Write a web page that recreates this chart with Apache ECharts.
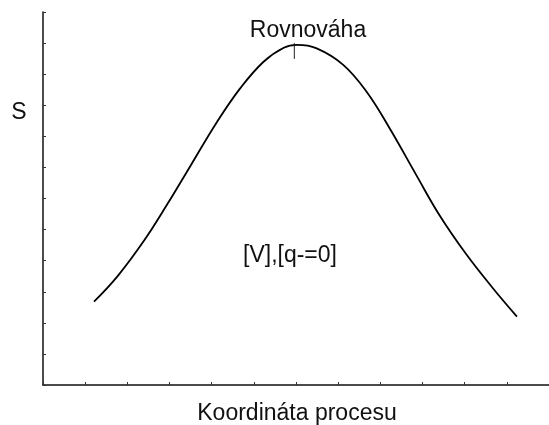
<!DOCTYPE html>
<html>
<head>
<meta charset="utf-8">
<script src="https://cdn.jsdelivr.net/npm/echarts@6/dist/echarts.min.js"></script>
<style>
  html, body { margin: 0; padding: 0; background: #fff; }
  #chart { width: 549px; height: 425px; }
</style>
</head>
<body>
<div id="chart"></div>
<script>
// Reaction-coordinate profile: S along the process coordinate (arbitrary units 0–12)
const coordX = [1.21, 1.78, 2.41, 2.95, 3.51, 4.13, 4.68, 5.23, 5.71, 6.02, 6.49, 7.12, 7.67, 8.22, 8.85, 9.40, 10.03, 10.66, 11.24];
const valueS = [2.68, 3.52, 4.67, 5.82, 7.08, 8.47, 9.55, 10.40, 10.85, 10.94, 10.83, 10.30, 9.44, 8.26, 6.76, 5.47, 4.22, 3.13, 2.20];

// Equilibrium marker at the maximum
const peakX = 5.96;
const peakMarkY = [11.0, 10.49];

const xAxisTitle = 'Koordináta procesu';
const yAxisTitle = 'S';
const peakLabel = 'Rovnováha';
const areaLabel = '[V],[q-=0]';

const FONT = 'Liberation Sans, Arial, sans-serif';
const FONT_SIZE = 23;

const chart = echarts.init(document.getElementById('chart'), null, { renderer: 'canvas' });

const axisCommon = {
  type: 'value',
  min: 0,
  max: 12,
  interval: 1,
  axisLine: { show: true, lineStyle: { color: '#111', width: 1.5 } },
  axisTick: { show: true, inside: true, length: 3, lineStyle: { color: '#333', width: 1 } },
  axisLabel: { show: false },
  splitLine: { show: false }
};

function textItem(text, x, y) {
  return {
    type: 'text',
    style: {
      text: text,
      font: FONT_SIZE + 'px ' + FONT,
      fill: '#111',
      x: x,
      y: y,
      align: 'center',
      verticalAlign: 'middle'
    }
  };
}

chart.setOption({
  backgroundColor: '#fff',
  animation: false,
  grid: { left: 43, top: 12, width: 509, height: 373, containLabel: false },
  xAxis: Object.assign({}, axisCommon),
  yAxis: Object.assign({}, axisCommon),
  series: [
    {
      type: 'line',
      data: coordX.map((x, i) => [x, valueS[i]]),
      smooth: 0.4,
      smoothMonotone: 'none',
      symbol: 'none',
      lineStyle: { color: '#000', width: 1.8 },
      z: 3
    },
    {
      type: 'line',
      data: peakMarkY.map(y => [peakX, y]),
      symbol: 'none',
      lineStyle: { color: '#222', width: 1 },
      z: 4
    }
  ],
  graphic: [
    textItem(peakLabel, 308, 31),
    textItem(yAxisTitle, 19, 113),
    textItem(areaLabel, 290, 256),
    textItem(xAxisTitle, 297, 414)
  ]
});
</script>
</body>
</html>
